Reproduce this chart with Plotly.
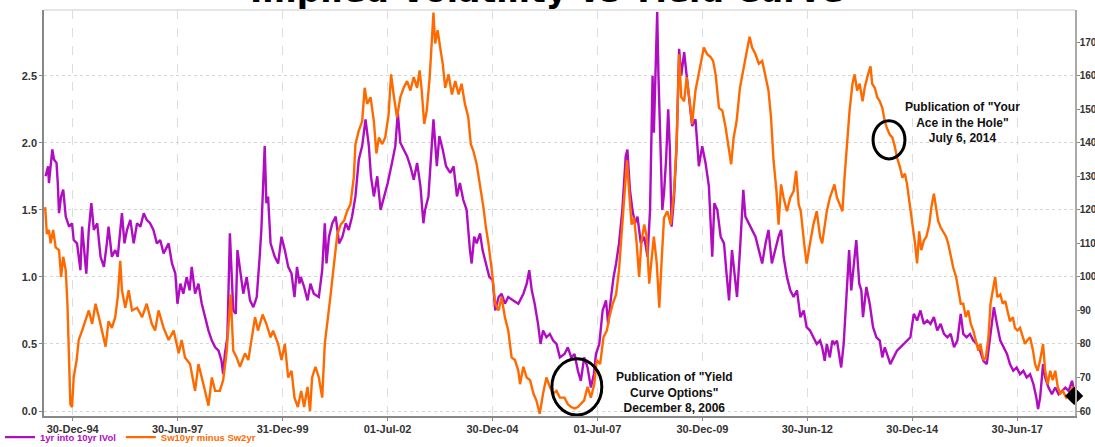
import pandas as pd
import plotly.graph_objects as go

# ---------------- data (decimal years) ----------------
ivol_t = [1994.35,1994.41,1994.43,1994.51,1994.55,1994.61,1994.64,1994.67,1994.72,1994.77,1994.83,1994.91,1994.98,
          1995.02,1995.10,1995.18,1995.22,1995.32,1995.38,1995.44,1995.50,1995.58,1995.66,1995.74,1995.81,1995.85,1995.93,
          1996.01,1996.07,1996.13,1996.17,1996.23,1996.29,1996.37,1996.45,1996.53,1996.61,1996.69,1996.76,1996.84,1996.92,
          1997.00,1997.08,1997.16,1997.28,1997.36,1997.44,1997.49,1997.56,1997.63,1997.71,1997.78,1997.83,1997.91,1997.99,
          1998.07,1998.15,1998.23,1998.31,1998.39,1998.47,1998.54,1998.58,1998.62,1998.68,1998.74,1998.82,1998.88,1998.92,1998.98,
          1999.06,1999.14,1999.22,1999.30,1999.38,1999.45,1999.49,1999.57,1999.61,1999.65,1999.71,1999.81,1999.89,1999.97,
          2000.05,2000.13,2000.21,2000.28,2000.34,2000.40,2000.43,2000.51,2000.59,2000.66,2000.74,2000.86,2000.94,
          2001.00,2001.04,2001.10,2001.18,2001.26,2001.34,2001.42,2001.50,2001.57,2001.65,2001.73,2001.81,2001.89,2001.97,
          2002.05,2002.10,2002.17,2002.25,2002.33,2002.41,2002.50,2002.60,2002.68,2002.74,2002.80,2002.88,2002.96,
          2003.04,2003.12,2003.20,2003.28,2003.35,2003.39,2003.47,2003.55,2003.59,2003.67,2003.73,2003.81,2003.89,2003.99,
          2004.07,2004.15,2004.22,2004.30,2004.38,2004.46,2004.50,2004.56,2004.62,2004.70,2004.76,2004.84,2004.92,
          2005.00,2005.06,2005.14,2005.21,2005.29,2005.37,2005.49,2005.61,2005.73,2005.81,2005.87,2005.93,
          2006.00,2006.08,2006.14,2006.20,2006.28,2006.36,2006.44,2006.52,2006.60,2006.71,2006.79,2006.87,2006.95,
          2007.03,2007.10,2007.18,2007.26,2007.34,2007.41,2007.46,2007.54,2007.62,2007.70,2007.75,2007.82,2007.88,2007.94,
          2008.01,2008.09,2008.17,2008.21,2008.27,2008.33,2008.39,2008.45,2008.53,2008.61,2008.69,2008.75,2008.81,2008.84,
          2008.88,2008.92,2008.95,2008.99,2009.04,2009.08,2009.13,2009.18,2009.22,2009.26,2009.32,2009.38,2009.44,2009.49,
          2009.56,2009.62,2009.68,2009.75,2009.83,2009.91,2009.99,2010.07,2010.15,2010.23,2010.28,2010.35,2010.43,2010.51,
          2010.57,2010.63,2010.70,2010.76,2010.82,2010.90,2010.97,2011.02,2011.10,2011.18,2011.26,2011.34,2011.42,2011.50,
          2011.57,2011.65,2011.73,2011.81,2011.87,2011.93,2012.01,2012.09,2012.17,2012.25,2012.33,2012.41,2012.48,2012.56,
          2012.64,2012.72,2012.80,2012.85,2012.91,2012.96,2013.03,2013.09,2013.14,2013.20,2013.25,2013.30,2013.36,2013.42,
          2013.49,2013.54,2013.60,2013.66,2013.73,2013.78,2013.82,2013.90,2013.98,2014.06,2014.14,2014.22,2014.28,2014.34,
          2014.42,2014.47,2014.55,2014.63,2014.71,2014.79,2014.87,2014.95,2015.03,2015.11,2015.19,2015.27,2015.35,2015.43,
          2015.51,2015.59,2015.67,2015.75,2015.83,2015.91,2015.99,2016.07,2016.15,2016.21,2016.29,2016.37,2016.45,2016.53,
          2016.61,2016.69,2016.77,2016.83,2016.89,2016.94,2017.01,2017.09,2017.17,2017.25,2017.32,2017.40,2017.48,2017.56,
          2017.64,2017.72,2017.80,2017.88,2017.95,2017.99,2018.04,2018.11,2018.16,2018.24,2018.32,2018.40,2018.48,2018.56,
          2018.64,2018.72,2018.80,2018.85]
ivol_v = [130,133,128,138,135,134,128,119,124,126,118,115,116,
          111,110,102,115,101,114,122,114,116,106,103,110,115,106,
          108,106,114,119,110,114,117,110,116,115,119,117,116,114,
          110,111,107,110,104,101,92,98,95,100,96,103,95,98,
          92,88,84,81,79,78,75,71,77,82,113,90,89,108,102,
          95,100,93,91,94,106,114,139,122,124,110,106,104,112,
          108,103,101,94,103,98,100,97,93,98,95,94,102,
          116,104,112,116,118,110,112,116,114,118,124,135,139,147,
          139,130,124,130,120,124,128,134,139,149,140,138,136,
          133,129,134,127,116,120,124,138,147,133,142,138,133,131,
          133,124,128,123,120,108,104,112,110,113,108,104,100,
          99,90,94,95,92,94,93,92,95,98,102,96,
          92,86,80,84,82,83,81,80,76,77,79,76,77,
          72,69,76,73,67,71,77,80,90,93,86,94,100,104,
          110,120,136,138,126,120,116,118,110,112,106,120,160,143,
          160,179,160,139,120,125,135,150,138,115,124,139,168,160,
          167,160,152,145,147,133,139,134,127,106,122,120,112,110,
          101,93,108,100,94,110,126,118,116,114,112,108,104,110,
          114,104,108,112,114,106,100,96,94,96,88,90,85,84,
          82,80,81,79,75,80,76,81,80,81,77,73,80,92,
          108,96,104,111,98,96,88,97,92,85,82,81,76,79,
          76,74,76,78,79,80,81,82,89,87,90,86,87,86,
          88,84,86,83,82,83,79,81,89,83,82,83,81,80,
          78,75,74,80,85,91,86,81,79,77,74,72,73,71,
          72,70,71,68,64,60.6,64,74,70,67,65,67,65,66,
          67,66,69,66]

curve_t = [1994.34,1994.38,1994.43,1994.47,1994.53,1994.59,1994.67,1994.72,1994.77,1994.83,1994.87,1994.91,1994.94,1994.98,
           1995.02,1995.09,1995.14,1995.22,1995.30,1995.38,1995.46,1995.54,1995.62,1995.70,1995.78,1995.85,1995.93,
           1996.01,1996.07,1996.13,1996.17,1996.25,1996.33,1996.41,1996.53,1996.65,1996.76,1996.88,1996.96,
           1997.04,1997.16,1997.28,1997.40,1997.52,1997.59,1997.67,1997.79,1997.91,1997.99,
           1998.11,1998.23,1998.31,1998.39,1998.50,1998.58,1998.66,1998.76,1998.82,1998.90,1998.98,
           1999.10,1999.18,1999.26,1999.34,1999.41,1999.52,1999.61,1999.71,1999.77,1999.89,1999.97,
           2000.05,2000.13,2000.21,2000.28,2000.36,2000.44,2000.51,2000.59,2000.65,2000.70,2000.78,2000.86,2000.94,
           2001.00,2001.06,2001.14,2001.22,2001.30,2001.38,2001.46,2001.53,2001.61,2001.69,2001.73,2001.81,2001.89,2001.95,
           2002.01,2002.09,2002.17,2002.23,2002.29,2002.37,2002.44,2002.52,2002.58,2002.64,2002.72,2002.80,2002.88,2002.96,
           2003.04,2003.12,2003.20,2003.26,2003.31,2003.37,2003.43,2003.50,2003.55,2003.59,2003.63,2003.69,2003.75,2003.81,
           2003.87,2003.95,2004.03,2004.11,2004.19,2004.26,2004.34,2004.42,2004.48,2004.54,2004.62,2004.70,2004.78,2004.84,
           2004.90,2004.98,2005.06,2005.14,2005.21,2005.29,2005.37,2005.45,2005.53,2005.61,2005.65,2005.73,2005.81,2005.89,
           2005.97,2006.04,2006.12,2006.20,2006.28,2006.36,2006.44,2006.52,2006.60,2006.71,2006.79,2006.87,2006.95,
           2007.03,2007.10,2007.18,2007.26,2007.34,2007.42,2007.48,2007.56,2007.64,2007.72,2007.78,2007.86,2007.94,
           2008.01,2008.09,2008.15,2008.20,2008.25,2008.31,2008.37,2008.43,2008.49,2008.54,2008.61,2008.67,2008.73,2008.78,
           2008.84,2008.91,2008.97,2009.02,2009.08,2009.16,2009.24,2009.32,2009.38,2009.44,2009.49,2009.56,2009.62,2009.70,
           2009.75,2009.83,2009.89,2009.97,2010.03,2010.11,2010.19,2010.25,2010.31,2010.39,2010.47,2010.55,2010.63,2010.68,
           2010.74,2010.81,2010.89,2010.97,2011.04,2011.12,2011.18,2011.26,2011.34,2011.42,2011.50,2011.57,2011.63,2011.69,
           2011.76,2011.81,2011.87,2011.93,2012.01,2012.09,2012.17,2012.23,2012.29,2012.34,2012.42,2012.48,2012.56,2012.64,
           2012.72,2012.80,2012.85,2012.91,2012.96,2013.03,2013.09,2013.14,2013.20,2013.26,2013.33,2013.38,2013.44,2013.50,
           2013.57,2013.62,2013.68,2013.74,2013.81,2013.86,2013.94,2014.00,2014.04,2014.10,2014.16,2014.22,2014.28,2014.34,
           2014.39,2014.46,2014.52,2014.58,2014.63,2014.70,2014.76,2014.82,2014.87,2014.94,2015.00,2015.06,2015.11,2015.16,
           2015.21,2015.27,2015.33,2015.40,2015.45,2015.51,2015.56,2015.61,2015.67,2015.73,2015.80,2015.85,2015.91,2015.97,
           2016.04,2016.09,2016.15,2016.21,2016.27,2016.33,2016.39,2016.45,2016.51,2016.57,2016.62,2016.69,2016.75,2016.81,
           2016.86,2016.93,2016.97,2017.02,2017.09,2017.15,2017.21,2017.26,2017.32,2017.39,2017.44,2017.50,2017.56,2017.63,
           2017.68,2017.74,2017.80,2017.87,2017.92,2017.98,2018.04,2018.11,2018.16,2018.22,2018.28,2018.34,2018.40,2018.46,
           2018.52,2018.58,2018.66,2018.74,2018.82,2018.85]
curve_v = [1.52,1.32,1.35,1.25,1.35,1.22,1.20,1.00,1.15,1.05,0.80,0.25,0.05,0.03,
           0.25,0.38,0.53,0.60,0.67,0.75,0.65,0.80,0.70,0.60,0.48,0.67,0.62,
           0.70,0.85,1.12,0.90,0.77,0.90,0.75,0.77,0.70,0.80,0.65,0.60,
           0.75,0.62,0.53,0.60,0.43,0.53,0.40,0.35,0.15,0.35,
           0.20,0.04,0.25,0.15,0.15,0.23,0.43,0.87,0.45,0.40,0.33,
           0.43,0.38,0.55,0.70,0.60,0.72,0.65,0.55,0.60,0.50,0.38,
           0.50,0.25,0.30,0.10,0.03,0.15,0.03,0.18,0.00,0.25,0.33,0.25,0.10,
           0.50,0.65,0.87,1.10,1.32,1.39,1.42,1.49,1.54,1.74,1.99,2.09,2.16,2.41,
           2.29,2.34,2.16,1.92,2.04,1.99,2.04,2.21,2.51,2.36,2.19,2.34,2.41,2.46,
           2.39,2.49,2.41,2.54,2.39,2.14,2.24,2.49,2.79,2.97,2.74,2.84,2.71,2.59,
           2.41,2.51,2.36,2.46,2.36,2.44,2.29,2.19,1.99,1.94,1.84,1.69,1.52,1.37,
           1.25,1.05,0.80,0.75,0.85,0.70,0.60,0.40,0.38,0.30,0.20,0.33,0.25,0.23,
           0.13,0.08,-0.02,0.13,0.25,0.18,0.13,0.15,0.10,0.10,0.05,0.03,0.02,
           0.03,0.05,0.08,0.18,0.10,0.20,0.38,0.35,0.55,0.60,0.70,0.80,0.87,
           1.05,1.39,1.67,1.87,1.64,1.39,1.44,1.25,1.00,1.25,1.39,1.30,0.95,1.10,
           1.30,1.10,0.77,1.10,1.44,1.49,1.39,1.64,1.99,2.66,2.34,2.31,2.49,2.29,
           2.14,2.39,2.49,2.61,2.71,2.66,2.64,2.61,2.51,2.26,2.24,2.11,1.94,1.84,
           2.04,2.16,2.41,2.56,2.66,2.79,2.71,2.66,2.59,2.61,2.49,2.39,2.19,1.87,
           1.64,1.39,1.69,1.59,1.49,1.59,1.64,1.79,1.54,1.49,1.25,1.10,1.25,1.39,
           1.49,1.30,1.25,1.37,1.49,1.59,1.64,1.69,1.59,1.54,1.49,1.74,1.99,2.24,
           2.44,2.51,2.39,2.44,2.31,2.41,2.51,2.57,2.44,2.41,2.34,2.31,2.26,2.16,
           2.11,2.06,2.04,1.97,1.89,1.82,1.74,1.77,1.69,1.54,1.39,1.25,1.10,1.34,
           1.20,1.27,1.30,1.39,1.52,1.62,1.52,1.42,1.37,1.34,1.30,1.25,1.15,1.07,
           1.00,0.90,0.80,0.80,0.70,0.75,0.65,0.60,0.53,0.45,0.50,0.38,0.40,0.55,
           0.80,0.95,1.00,0.85,0.87,0.80,0.82,0.75,0.67,0.70,0.62,0.60,0.62,0.55,
           0.50,0.53,0.55,0.45,0.35,0.30,0.38,0.50,0.30,0.20,0.30,0.23,0.30,0.18,
           0.13,0.15,0.10,0.13,0.18,0.15]

last_ivol = 64.5

tick_dates = ["1994-12-30","1997-06-30","1999-12-31","2002-07-01","2004-12-30",
              "2007-07-01","2009-12-30","2012-06-30","2014-12-30","2017-06-30"]
tick_text = ["30-Dec-94","30-Jun-97","31-Dec-99","01-Jul-02","30-Dec-04",
             "01-Jul-07","30-Dec-09","30-Jun-12","30-Dec-14","30-Jun-17"]

ivol_name = "1yr into 10yr IVol"
curve_name = "Sw10yr minus Sw2yr"
title_text = "Implied Volatility vs Yield Curve"
note1 = 'Publication of "Yield<br>Curve Options"<br>December 8, 2006'
note2 = 'Publication of "Your<br>Ace in the Hole"<br>July 6, 2014'

PURPLE = "#B00CC2"
ORANGE = "#FF6A00"


def to_date(y):
    yr = int(y)
    return pd.Timestamp(year=yr, month=1, day=1) + pd.Timedelta(days=(y - yr) * 365.25)


ivol_d = [to_date(v) for v in ivol_t]
curve_d = [to_date(v) for v in curve_t]

IVOL_RANGE = [58.52, 179.6]
CURVE_RANGE = [-0.037, 2.99]

fig = go.Figure()
fig.add_trace(go.Scatter(x=ivol_d, y=ivol_v, mode="lines", yaxis="y",
                         name=f"<span style='color:{PURPLE}'>{ivol_name}</span>",
                         line=dict(color=PURPLE, width=2.4)))
fig.add_trace(go.Scatter(x=curve_d, y=curve_v, mode="lines", yaxis="y2",
                         name=f"<span style='color:{ORANGE}'>{curve_name}</span>",
                         line=dict(color=ORANGE, width=2.4)))
fig.add_trace(go.Scatter(x=[ivol_d[-1]], y=[last_ivol], mode="markers", yaxis="y3",
                         showlegend=False, cliponaxis=False,
                         marker=dict(symbol="diamond", size=14, color="black")))

tickfont = dict(family="Liberation Sans, Arial", size=11, color="#333333", weight="bold")
rtickfont = dict(family="Liberation Sans, Arial", size=10, color="#333333", weight="bold")

fig.update_layout(
    width=1095, height=447,
    margin=dict(l=44, r=20, t=10, b=31, autoexpand=False),
    paper_bgcolor="white", plot_bgcolor="white",
    showlegend=True,
    legend=dict(orientation="h", xref="container", yref="paper", x=-0.012, y=-0.052,
                xanchor="left", yanchor="middle",
                font=dict(family="Liberation Sans, Arial", size=9.5, weight="bold"),
                itemwidth=30, tracegroupgap=0, bgcolor="rgba(0,0,0,0)"),
    xaxis=dict(type="date", range=["1994-04-25", "2018-11-15"],
               tickmode="array", tickvals=tick_dates, ticktext=tick_text,
               tickfont=tickfont, ticks="outside", ticklen=3, tickcolor="#888888",
               ticklabelstandoff=-1,
               showline=True, linecolor="#888888", linewidth=1.5,
               showgrid=True, gridcolor="#dddddd", griddash="dash", gridwidth=1,
               zeroline=False, automargin=False),
    yaxis=dict(side="right", range=IVOL_RANGE, tickmode="array",
               tickvals=[60, 70, 80, 90, 100, 110, 120, 130, 140, 150, 160, 170],
               tickfont=rtickfont, ticks="outside", ticklen=3, tickcolor="#888888",
               ticklabelstandoff=-2,
               showline=True, linecolor="#aaaaaa", linewidth=1.5,
               showgrid=False, zeroline=False, automargin=False),
    yaxis2=dict(side="left", overlaying="y", range=CURVE_RANGE, tickmode="array",
                tickvals=[0, 0.5, 1.0, 1.5, 2.0, 2.5], tickformat=".1f",
                tickfont=tickfont, ticks="outside", ticklen=3, tickcolor="#888888",
                showline=True, linecolor="#888888", linewidth=1.5,
                showgrid=True, gridcolor="#d5d5d5", griddash="dot", gridwidth=1,
                zeroline=False, automargin=False),
    yaxis3=dict(overlaying="y", range=IVOL_RANGE, visible=False, automargin=False),
)

# top border of plot area
fig.add_shape(type="line", xref="paper", yref="paper", x0=0, x1=1, y0=1, y1=1,
              line=dict(color="#dddddd", width=1.5))

# ellipses
fig.add_shape(type="circle", xref="x", yref="y2",
              x0=to_date(2006.41), x1=to_date(2007.60), y0=-0.03, y1=0.39,
              line=dict(color="black", width=3))
fig.add_shape(type="circle", xref="x", yref="y2",
              x0=to_date(2014.06), x1=to_date(2014.82), y0=1.88, y1=2.165,
              line=dict(color="black", width=3))

notefont = dict(family="Liberation Sans, Arial", size=12, color="#111111", weight="bold")
fig.add_annotation(x=to_date(2009.34), y=0.14, xref="x", yref="y2", text=note1,
                   showarrow=False, font=notefont, align="center")
fig.add_annotation(x=to_date(2016.20), y=2.15, xref="x", yref="y2", text=note2,
                   showarrow=False, font=notefont, align="center")

fig.add_annotation(x=0.487, y=1, xref="paper", yref="paper", text=title_text,
                   showarrow=False, yanchor="bottom", yshift=-2,
                   font=dict(family="DejaVu Sans", size=33, color="black", weight="bold"))

fig.write_html("out.html", config={"displayModeBar": False},
               post_script="document.body.style.margin='0px';")
